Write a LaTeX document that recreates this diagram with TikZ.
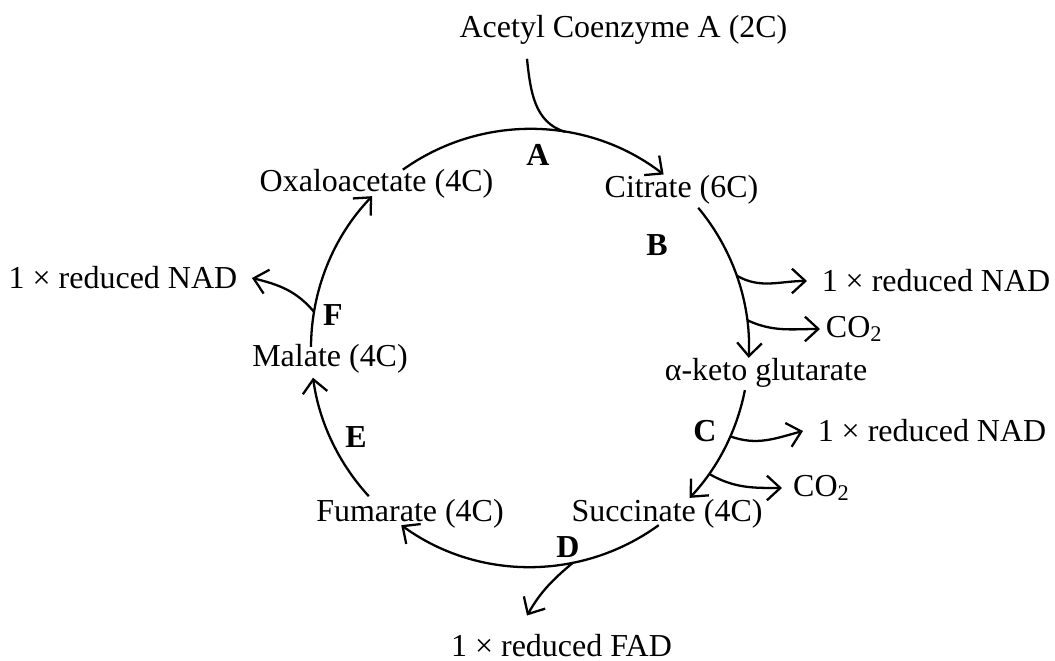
\documentclass[tikz,border=0pt]{standalone}
\usepackage{fontspec}
\setmainfont{Liberation Serif}
\usepackage{tikz}
\usetikzlibrary{calc,arrows.meta}
\tikzstyle{cmpd} = [inner sep=1pt, font=\fontsize{9.1}{11}\selectfont]
\tikzstyle{prod} = [inner sep=4pt, font=\fontsize{9.1}{11}\selectfont]
\tikzstyle{enz} = [inner sep=0pt, font=\fontsize{9.1}{11}\selectfont\bfseries]
\tikzstyle{line} = [line width=0.65pt]
\tikzstyle{arrow} = [line width=0.65pt,-{Straight Barb[length=3.8pt,width=7pt]}]
\newcommand{\rad}{2.19}

\begin{document}
\begin{tikzpicture}
    \useasboundingbox (0,0) rectangle (10.55,6.61);
    % centre of the cycle
    \coordinate (c) at (5.30,3.13);

    % We start by placing the compounds round the cycle
    \node [cmpd] (acetyl) at (6.235,6.31) {Acetyl Coenzyme A (2C)};
    \node [cmpd] (citrate) at (6.815,4.71) {Citrate (6C)};
    \node [cmpd] (oxalo) at (3.765,4.77) {Oxaloacetate (4C)};
    \node [cmpd] (aketo) at (7.66,2.88) {α-keto glutarate};
    \node [cmpd] (succ) at (6.67,1.47) {Succinate (4C)};
    \node [cmpd] (fum) at (4.10,1.47) {Fumarate (4C)};
    \node [cmpd] (malate) at (3.30,3.02) {Malate (4C)};

    % then the steps
    \node [enz] (A) at (5.38,5.065) {A};
    \node [enz] (B) at (6.57,4.16) {B};
    \node [enz] (C) at (7.05,2.295) {C};
    \node [enz] (D) at (5.68,1.14) {D};
    \node [enz] (E) at (3.56,2.24) {E};
    \node [enz] (F) at (3.33,3.46) {F};

    % and what leaves the cycle
    \node [prod, anchor=west] (nadB) at (8.07,3.80) {1 × reduced NAD};
    \node [prod, anchor=west, inner sep=1.5pt] (co2B) at (8.20,3.32) {CO\textsubscript{2}};
    \node [prod, anchor=west] (nadC) at (8.03,2.30) {1 × reduced NAD};
    \node [prod, anchor=west, inner sep=3pt] (co2C) at (7.82,1.73) {CO\textsubscript{2}};
    \node [prod, anchor=east] (nadF) at (2.52,3.83) {1 × reduced NAD};
    \node [cmpd] (fad) at (5.615,0.15) {1 × reduced FAD};

    % points on the cycle
    \foreach \n/\a in {sA/125.5, sB/39.8, sC/-11.1, sD/-54, sE/-137.4, sF/179.7,
                       join/80.8, oB1/19.3, oB2/7.3, oC1/-23.8, oC2/-35.1,
                       oD/-78.7, oF/170.5}
        \coordinate (\n) at ($(c)+(\a:\rad)$);
    \coordinate (acin) at ($(acetyl.south)+(-0.965,-0.1)$);
    \coordinate (fadtip) at ($(fad.north)+(-0.345,0.15)$);

    % the arcs of the cycle
    \draw [arrow] (sA) arc [start angle=125.5, end angle=52.4, radius=\rad];
    \draw [arrow] (sB) arc [start angle=39.8, end angle=-2.6, radius=\rad];
    \draw [arrow] (sC) arc [start angle=-11.1, end angle=-43.2, radius=\rad];
    \draw [arrow] (sD) arc [start angle=-54, end angle=-126, radius=\rad];
    \draw [arrow] (sE) arc [start angle=-137.4, end angle=-172.2, radius=\rad];
    \draw [arrow] (sF) arc [start angle=179.7, end angle=136.1, radius=\rad];

    % Once the cycle is drawn, the side arrows are easy.
    \draw [line] (acin) to [out=-84, in=163] (join);
    \draw [arrow] (oB1) to [out=-30, in=180] (nadB.west);
    \draw [arrow] (oB2) to [out=-25, in=180] (co2B.west);
    \draw [arrow] (oC1) to [out=-20, in=195] (nadC.west);
    \draw [arrow] (oC2) to [out=-30, in=180] (co2C.west);
    \draw [arrow] (oD) to [out=-140, in=60] (fadtip);
    \draw [arrow] (oF) to [out=130, in=-14] (nadF.east);
\end{tikzpicture}
\end{document}
